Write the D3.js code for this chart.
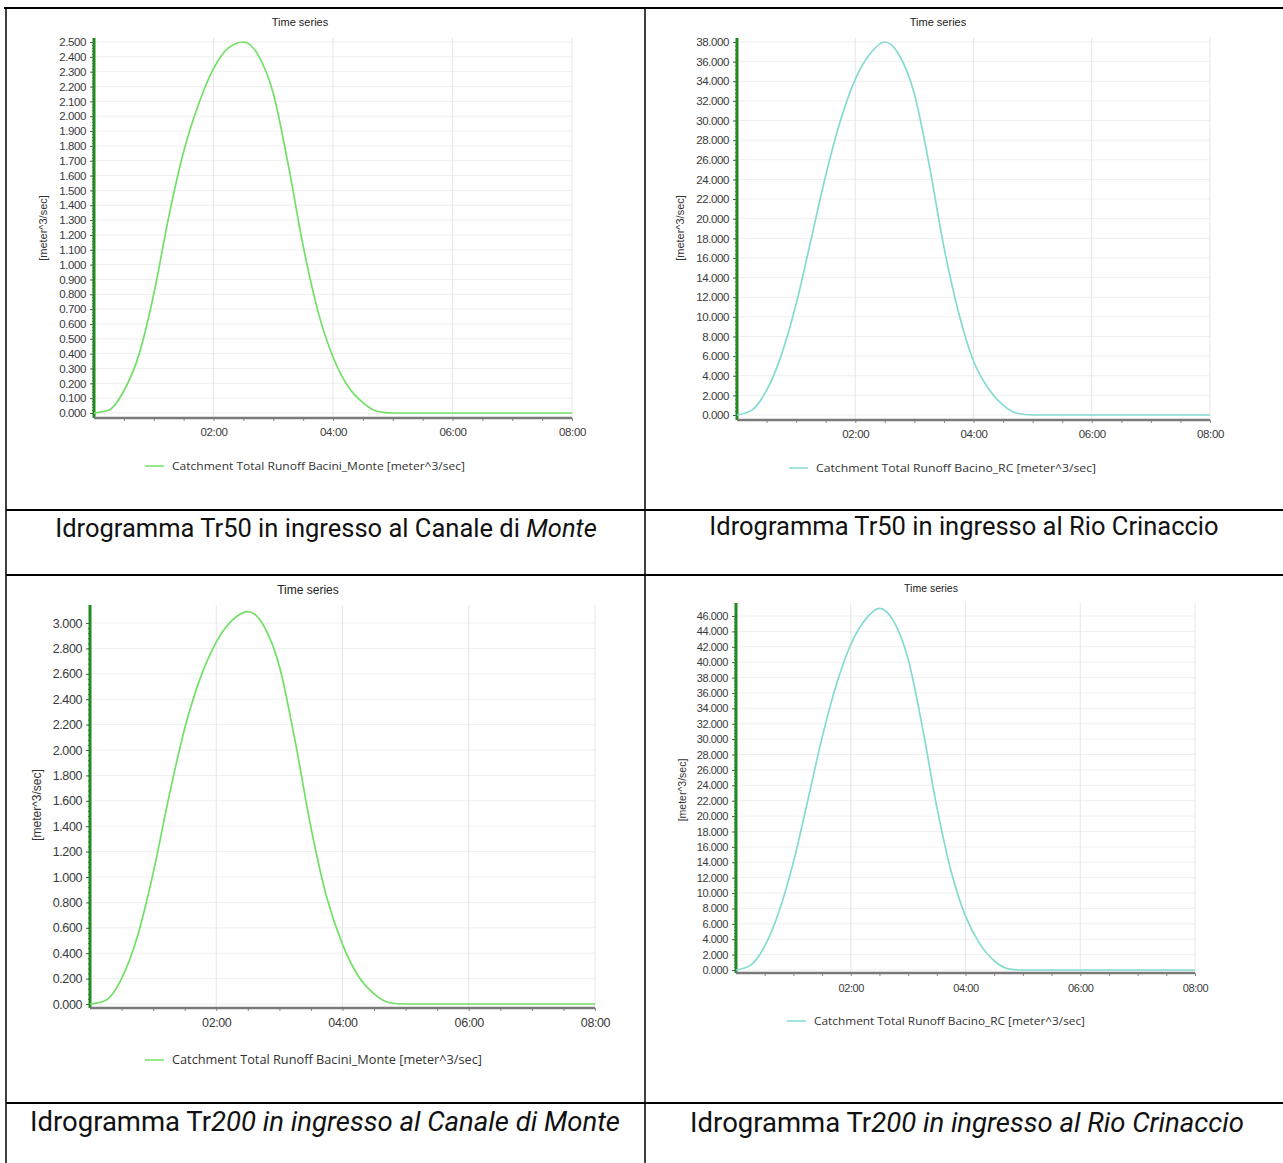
<!DOCTYPE html>
<html lang="it">
<head>
<meta charset="UTF-8">
<title>Idrogrammi</title>
<script src="https://cdn.jsdelivr.net/npm/d3@7"></script>
<style>
  body { margin: 0; background: #fff; }
  svg { display: block; }
  .tick text { fill: #3a3a3a; }
  .caption { font-family: Roboto, "Noto Sans", sans-serif; fill: #111; }
  .chart-text { font-family: "Liberation Sans", Arial, sans-serif; }
</style>
</head>
<body>
<script>
// time in hours from the start of the event
const hours = [0, 0.25, 0.5, 0.75, 1, 1.25, 1.5, 1.75, 2, 2.25, 2.5, 2.75, 3, 3.25, 3.5, 3.75, 4, 4.25, 4.5, 4.75, 5, 8];

// runoff values [meter^3/sec]
const monteTr50 = [0, 0.02, 0.15, 0.39, 0.80, 1.32, 1.76, 2.08, 2.32, 2.46, 2.5, 2.41, 2.154, 1.675, 1.127, 0.683, 0.377, 0.18, 0.07, 0.01, 0, 0];
const rcTr50 = [0, 0.5, 2.5, 6.1, 11.3, 17.8, 24.4, 30.0, 34.2, 36.8, 38.0, 36.6, 32.7, 25.5, 17.1, 10.4, 5.5, 2.7, 1.0, 0.15, 0, 0];
const monteTr200 = [0, 0.03, 0.20, 0.53, 1.03, 1.63, 2.17, 2.57, 2.85, 3.02, 3.09, 2.98, 2.66, 2.07, 1.39, 0.84, 0.47, 0.22, 0.08, 0.01, 0, 0];
const rcTr200 = [0, 0.6, 3.1, 7.6, 14.0, 22.0, 30.2, 37.1, 42.3, 45.5, 47.0, 45.3, 40.4, 31.5, 21.2, 12.8, 7.0, 3.4, 1.2, 0.15, 0, 0];

// axis ticks
const xTicks = [2, 4, 6, 8];
const yTicksMonte50 = [0, 0.1, 0.2, 0.3, 0.4, 0.5, 0.6, 0.7, 0.8, 0.9, 1.0, 1.1, 1.2, 1.3, 1.4, 1.5, 1.6, 1.7, 1.8, 1.9, 2.0, 2.1, 2.2, 2.3, 2.4, 2.5];
const yTicksRc50 = [0, 2, 4, 6, 8, 10, 12, 14, 16, 18, 20, 22, 24, 26, 28, 30, 32, 34, 36, 38];
const yTicksMonte200 = [0, 0.2, 0.4, 0.6, 0.8, 1.0, 1.2, 1.4, 1.6, 1.8, 2.0, 2.2, 2.4, 2.6, 2.8, 3.0];
const yTicksRc200 = [0, 2, 4, 6, 8, 10, 12, 14, 16, 18, 20, 22, 24, 26, 28, 30, 32, 34, 36, 38, 40, 42, 44, 46];

const legendMonte = "Catchment Total Runoff Bacini_Monte [meter^3/sec]";
const legendRc = "Catchment Total Runoff Bacino_RC [meter^3/sec]";

const green = "#72e066";
const teal = "#84dbd2";

const svg = d3.select("body").append("svg")
    .attr("width", 1283)
    .attr("height", 1163);

// panel layout
const charts = [
    { values: monteTr50, ticks: yTicksMonte50, legend: legendMonte, color: green,
      x0: 94, x1: 572, yZero: 413, yTop: 42, axisY: 418, axisTop: 38, fs: 11.5,
      title: [300, 22], ylab: [43, 228], leg: [145, 466], legW: 293, xlabY: 432 },
    { values: rcTr50, ticks: yTicksRc50, legend: legendRc, color: teal,
      x0: 737, x1: 1210, yZero: 415, yTop: 42, axisY: 420, axisTop: 38, fs: 11.5,
      title: [938, 22], ylab: [680, 228], leg: [789, 468], legW: 280, xlabY: 434 },
    { values: monteTr200, ticks: yTicksMonte200, legend: legendMonte, color: green,
      x0: 90, x1: 595, yZero: 1004, yTop: 623, axisY: 1008, axisTop: 605, fs: 12.5,
      title: [308, 590], ylab: [37, 805], leg: [145, 1060], legW: 310, xlabY: 1023 },
    { values: rcTr200, ticks: yTicksRc200, legend: legendRc, color: teal,
      x0: 736, x1: 1195, yZero: 970, yTop: 616, axisY: 973, axisTop: 603, fs: 11,
      title: [931, 588], ylab: [682, 790], leg: [787, 1021], legW: 271, xlabY: 988 }
];

charts.forEach(c => {
    const g = svg.append("g").attr("class", "chart-text");
    const top = c.ticks[c.ticks.length - 1];
    const step = c.ticks[1] - c.ticks[0];

    const x = d3.scaleLinear().domain([0, 8]).range([c.x0, c.x1]);
    const y = d3.scaleLinear().domain([0, top]).range([c.yZero, c.yTop]);

    // grid
    g.append("g").selectAll("line").data(c.ticks).join("line")
        .attr("x1", c.x0).attr("x2", c.x1)
        .attr("y1", d => y(d)).attr("y2", d => y(d))
        .attr("stroke", "#efefef");
    g.append("g").selectAll("line").data(xTicks).join("line")
        .attr("x1", d => x(d)).attr("x2", d => x(d))
        .attr("y1", c.axisTop).attr("y2", c.axisY)
        .attr("stroke", "#e6e6e6");

    // title
    g.append("text").attr("x", c.title[0]).attr("y", c.title[1] + 4)
        .attr("text-anchor", "middle").attr("font-size", c.fs - 0.5).attr("fill", "#222")
        .text("Time series");

    // y label
    g.append("text")
        .attr("transform", `translate(${c.ylab[0] + 4},${c.ylab[1]}) rotate(-90)`)
        .attr("text-anchor", "middle").attr("font-size", c.fs - 0.5).attr("fill", "#333")
        .text("[meter^3/sec]");

    // y minor ticks
    const minor = d3.range(0, top + step / 10, step / 5);
    g.append("g").attr("transform", `translate(${c.x0},0)`)
        .call(d3.axisLeft(y).tickValues(minor).tickSize(2).tickFormat(""))
        .call(a => a.select(".domain").remove())
        .call(a => a.selectAll("line").attr("stroke", "#666"));

    // y axis
    g.append("g").attr("transform", `translate(${c.x0},0)`)
        .call(d3.axisLeft(y).tickValues(c.ticks).tickSize(4).tickPadding(4).tickFormat(d3.format(".3f")))
        .call(a => a.select(".domain").remove())
        .call(a => a.selectAll("line").attr("stroke", "#555"))
        .call(a => a.selectAll("text").attr("font-size", c.fs).attr("font-family", "Liberation Sans, Arial, sans-serif")
            .attr("letter-spacing", "-0.4"));
    g.append("line")
        .attr("x1", c.x0).attr("x2", c.x0)
        .attr("y1", c.axisTop).attr("y2", c.axisY)
        .attr("stroke", "#218a21").attr("stroke-width", 3);

    // x axis
    g.append("g").attr("transform", `translate(0,${c.axisY})`)
        .call(d3.axisBottom(x).tickValues(d3.range(0.5, 8.01, 0.5)).tickSize(3).tickFormat(""))
        .call(a => a.select(".domain").remove())
        .call(a => a.selectAll("line").attr("stroke", "#888"));
    g.append("g").attr("transform", `translate(0,${c.axisY})`)
        .call(d3.axisBottom(x).tickValues(xTicks).tickSize(0).tickPadding(c.xlabY - c.axisY)
            .tickFormat(d => (d < 10 ? "0" : "") + d + ":00"))
        .call(a => a.select(".domain").remove())
        .call(a => a.selectAll("text").attr("font-size", c.fs).attr("font-family", "Liberation Sans, Arial, sans-serif")
            .attr("dy", "0.35em").attr("letter-spacing", "-0.4"));
    g.append("line")
        .attr("x1", c.x0).attr("x2", c.x1)
        .attr("y1", c.axisY).attr("y2", c.axisY)
        .attr("stroke", "#7a7a7a").attr("stroke-width", 2.5);

    // runoff line
    const line = d3.line()
        .x((d, i) => x(hours[i]))
        .y(d => y(d))
        .curve(d3.curveMonotoneX);
    g.append("path")
        .datum(c.values)
        .attr("d", line)
        .attr("fill", "none")
        .attr("stroke", c.color)
        .attr("stroke-width", 1.7);

    // legend
    g.append("line")
        .attr("x1", c.leg[0]).attr("x2", c.leg[0] + 19)
        .attr("y1", c.leg[1]).attr("y2", c.leg[1])
        .attr("stroke", c.color).attr("stroke-width", 1.5);
    g.append("text")
        .attr("x", c.leg[0] + 27).attr("y", c.leg[1]).attr("dy", "0.35em")
        .attr("font-size", c.fs - 0.5).attr("fill", "#333")
        .attr("font-family", "Open Sans, Noto Sans, sans-serif")
        .attr("textLength", c.legW).attr("lengthAdjust", "spacingAndGlyphs")
        .text(c.legend);
});

// table borders
const hLines = [[4, 1283, 8], [6, 1283, 510], [6, 1283, 575], [6, 1283, 1103]];
hLines.forEach(l => svg.append("line")
    .attr("x1", l[0]).attr("x2", l[1]).attr("y1", l[2]).attr("y2", l[2])
    .attr("stroke", "#000").attr("stroke-width", 2));
const vLines = [[6, 8, 1163], [645, 8, 1163]];
vLines.forEach(l => svg.append("line")
    .attr("x1", l[0]).attr("x2", l[0]).attr("y1", l[1]).attr("y2", l[2])
    .attr("stroke", "#000").attr("stroke-width", 1.5));

// captions
const captions = [
    { x: 326, y: 537, fs: 25.5, plain: "Idrogramma Tr50 in ingresso al Canale di ", italic: "Monte" },
    { x: 964, y: 535, fs: 25.5, plain: "Idrogramma Tr50 in ingresso al Rio Crinaccio", italic: "" },
    { x: 325, y: 1131, fs: 27.5, plain: "Idrogramma Tr", italic: "200 in ingresso al Canale di Monte" },
    { x: 967, y: 1132, fs: 27.5, plain: "Idrogramma Tr", italic: "200 in ingresso al Rio Crinaccio" }
];
captions.forEach(cp => {
    const t = svg.append("text").attr("class", "caption")
        .attr("x", cp.x).attr("y", cp.y).attr("text-anchor", "middle")
        .attr("font-size", cp.fs);
    t.append("tspan").text(cp.plain);
    if (cp.italic) t.append("tspan").attr("font-style", "italic").text(cp.italic);
});
</script>
</body>
</html>
